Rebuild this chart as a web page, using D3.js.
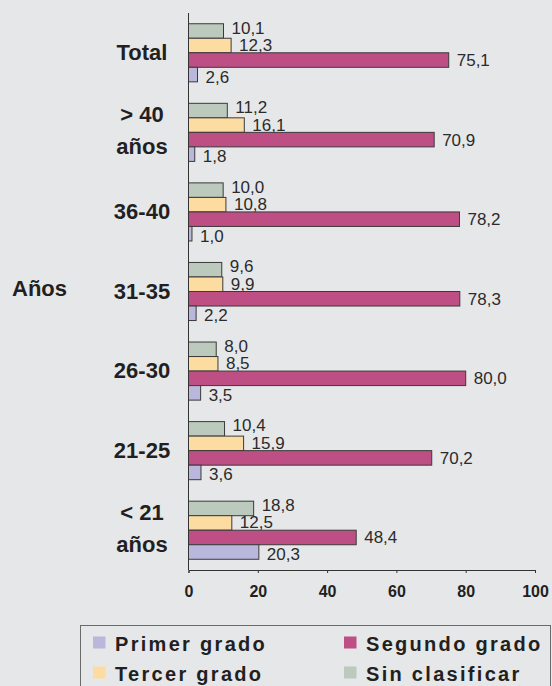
<!DOCTYPE html>
<html><head><meta charset="utf-8">
<script src="https://cdn.jsdelivr.net/npm/d3@7"></script>
<style>
html,body{margin:0;padding:0;background:#e6e7e9;}
svg{display:block;font-family:"Liberation Sans",Arial,sans-serif;}
</style></head>
<body>
<svg id="chart" width="552" height="686"></svg>
<script>
const categories = ["Total", "> 40\naños", "36-40", "31-35", "26-30", "21-25", "< 21\naños"];
const seriesNames = ["Sin clasificar", "Tercer grado", "Segundo grado", "Primer grado"];
const sinClasificar = [10.1, 11.2, 10.0, 9.6, 8.0, 10.4, 18.8];
const tercerGrado   = [12.3, 16.1, 10.8, 9.9, 8.5, 15.9, 12.5];
const segundoGrado  = [75.1, 70.9, 78.2, 78.3, 80.0, 70.2, 48.4];
const primerGrado   = [2.6, 1.8, 1.0, 2.2, 3.5, 3.6, 20.3];
const xTicks = [0, 20, 40, 60, 80, 100];
const axisTitle = "Años";
const legendOrder = ["Primer grado", "Segundo grado", "Tercer grado", "Sin clasificar"];

const values = {"Sin clasificar": sinClasificar, "Tercer grado": tercerGrado, "Segundo grado": segundoGrado, "Primer grado": primerGrado};
const colors = {"Sin clasificar": "#bccabe", "Tercer grado": "#fddca2", "Segundo grado": "#bd4f85", "Primer grado": "#bab7dc"};
const labelDy = {"Sin clasificar": 2.5, "Tercer grado": 5.5, "Segundo grado": 6, "Primer grado": 8};

const svg = d3.select("#chart");
const x = d3.scaleLinear().domain([0, 100]).range([188.5, 535]);
const y0 = d3.scaleBand().domain(categories).range([13, 570]).paddingInner(0.27).paddingOuter(0.135);
const y1 = d3.scaleBand().domain(seriesNames).range([0, y0.bandwidth()]);
const fmt = v => d3.format(".1f")(v).replace(".", ",");

// bars
categories.forEach((c, i) => {
  const g = svg.append("g").attr("transform", `translate(0,${y0(c)})`);
  seriesNames.forEach(s => {
    const v = values[s][i];
    g.append("rect")
      .attr("x", x(0)).attr("y", y1(s))
      .attr("width", x(v) - x(0)).attr("height", y1.bandwidth())
      .attr("fill", colors[s]).attr("stroke", "#3a3a3a").attr("stroke-width", 1);
    g.append("text")
      .attr("x", x(v) + 8).attr("y", y1(s) + y1.bandwidth() / 2 + labelDy[s])
      .attr("font-size", 17).attr("fill", "#2b2b2b")
      .text(fmt(v));
  });
});

// x axis
const xAxis = d3.axisBottom(x).tickValues(xTicks).tickSize(3).tickPadding(13).tickFormat(d3.format("d"));
const ax = svg.append("g").attr("transform", "translate(0,570)").call(xAxis);
ax.select(".domain").attr("stroke", "#333");
ax.selectAll(".tick line").attr("stroke", "#333");
ax.selectAll(".tick text").attr("font-size", 16).attr("font-weight", "bold").attr("fill", "#231f20")
  .attr("font-family", "'Liberation Sans',Arial,sans-serif");

// y axis line
svg.append("line").attr("x1", x(0)).attr("x2", x(0)).attr("y1", 13).attr("y2", 570)
  .attr("stroke", "#333").attr("stroke-width", 1);

// category labels
categories.forEach(c => {
  const lines = c.split("\n");
  const cy = y0(c) + y0.bandwidth() / 2;
  const t = svg.append("text").attr("text-anchor", "middle").attr("font-size", 22)
    .attr("font-weight", "bold").attr("fill", "#231f20");
  if (lines.length === 1) {
    t.append("tspan").attr("x", 142).attr("y", cy + 7).text(lines[0]);
  } else {
    lines.forEach((l, k) => t.append("tspan").attr("x", 142).attr("y", cy - 10 + k * 32).text(l));
  }
});

// axis title
svg.append("text").attr("x", 12).attr("y", 296).attr("font-size", 22).attr("font-weight", "bold")
  .attr("fill", "#231f20").text(axisTitle);

// legend
svg.append("rect").attr("x", 80.5).attr("y", 625.5).attr("width", 470).attr("height", 80)
  .attr("fill", "none").attr("stroke", "#6b6b6b").attr("stroke-width", 1);
const legPos = [[93, 636.5], [344, 636.5], [93, 666.5], [344, 666.5]];
legendOrder.forEach((s, i) => {
  const [lx, ly] = legPos[i];
  svg.append("rect").attr("x", lx).attr("y", ly).attr("width", 12.5).attr("height", 12).attr("fill", colors[s]);
  svg.append("text").attr("x", lx + 22).attr("y", ly + 14).attr("font-size", 20).attr("font-weight", "bold")
    .attr("letter-spacing", 2.3).attr("fill", "#231f20").text(s);
});
</script>
</body></html>
